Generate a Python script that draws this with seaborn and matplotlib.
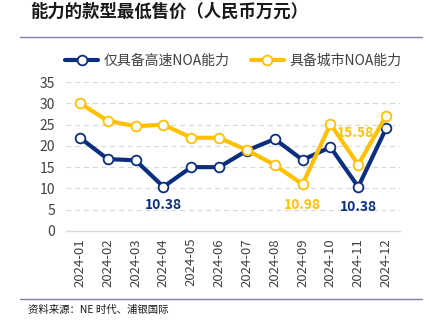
import matplotlib
matplotlib.use("Agg")
import matplotlib.pyplot as plt
import seaborn as sns
import pandas as pd

months = ["2024-01", "2024-02", "2024-03", "2024-04", "2024-05", "2024-06",
          "2024-07", "2024-08", "2024-09", "2024-10", "2024-11", "2024-12"]
highway_noa = [21.9, 16.9, 16.6, 10.38, 15.0, 15.0, 18.9, 21.6, 16.7, 19.7, 10.38, 24.1]
city_noa = [30.0, 25.9, 24.6, 25.0, 21.9, 21.9, 19.0, 15.5, 10.98, 25.1, 15.58, 27.0]
series_names = ["仅具备高速NOA能力", "具备城市NOA能力"]

sns.set_theme(style="white")
plt.rcParams['font.family'] = ['Noto Sans CJK SC', 'DejaVu Sans']

BLUE = "#0B2F7E"
YELLOW = "#FFC000"

df = pd.DataFrame({"month": months * 2,
                   "value": highway_noa + city_noa,
                   "series": [series_names[0]] * 12 + [series_names[1]] * 12})

fig = plt.figure(figsize=(4.29, 3.25), dpi=100)
ax = fig.add_axes([66/429, 1 - 231/325, (400-66)/429, (231-82)/325])

sns.lineplot(data=df, x="month", y="value", hue="series",
             palette=[BLUE, YELLOW], ax=ax, marker="o", markersize=7,
             markerfacecolor="white", markeredgewidth=1.3, linewidth=3,
             sort=False, legend=False)
for line, c in zip(ax.lines, [BLUE, YELLOW]):
    line.set_markeredgecolor(c)

ax.set_ylim(0, 35)
ax.set_yticks(range(0, 36, 5))
ax.set_xlim(-0.5, 11.5)
ax.set_xticks(range(12))
ax.set_xticklabels(months, rotation=90, fontsize=9.5, color="#404040")
ax.tick_params(axis="y", labelsize=10, colors="#404040", length=0, pad=8)
ax.tick_params(axis="x", length=0, pad=5)
ax.set_xlabel("")
ax.set_ylabel("")
ax.grid(axis="y", color="#D9D9D9", linestyle=(0, (4, 3)), linewidth=0.9)
ax.set_axisbelow(True)
for s in ["left", "right", "top"]:
    ax.spines[s].set_visible(False)
ax.spines["bottom"].set_color("#D9D9D9")
ax.spines["bottom"].set_linewidth(1)
ax.set_xticks([i - 0.5 for i in range(13)], minor=True)
ax.tick_params(axis="x", which="minor", length=4, color="#D9D9D9", direction="out")

from matplotlib.lines import Line2D
handles = [Line2D([0], [0], color=c, lw=3, marker="o", markersize=7,
                  markerfacecolor="white", markeredgecolor=c, markeredgewidth=1.3)
           for c in [BLUE, YELLOW]]
fig.legend(handles, series_names, loc="center", bbox_to_anchor=(0.544, 1 - 61/325),
           ncol=2, frameon=False, fontsize=10, handlelength=2.4, columnspacing=1.5,
           handletextpad=0.4, labelcolor="#404040")

ax.text(3, 6.0, "10.38", color=BLUE, fontsize=10, fontweight="bold", ha="center", va="center")
ax.text(8, 6.0, "10.98", color=YELLOW, fontsize=10, fontweight="bold", ha="center", va="center")
ax.text(10, 5.6, "10.38", color=BLUE, fontsize=10, fontweight="bold", ha="center", va="center")
ax.text(9.9, 23.0, "15.58", color=YELLOW, fontsize=10, fontweight="bold", ha="center", va="center")

fig.text(30/429, 1 - 12/325, "能力的款型最低售价（人民币万元）", fontsize=12.5, fontweight="bold",
         color="#1A1A1A", ha="left", va="center")
fig.add_artist(Line2D([20/429, 422/429], [1 - 37/325] * 2, color="#7F7FA8", lw=1))
fig.add_artist(Line2D([20/429, 422/429], [1 - 299/325] * 2, color="#7F7FA8", lw=1))
fig.text(28/429, 1 - 310/325, "资料来源：NE 时代、浦银国际", fontsize=7.5,
         color="#1A1A1A", ha="left", va="center")

fig.savefig("out.png", dpi=100)
